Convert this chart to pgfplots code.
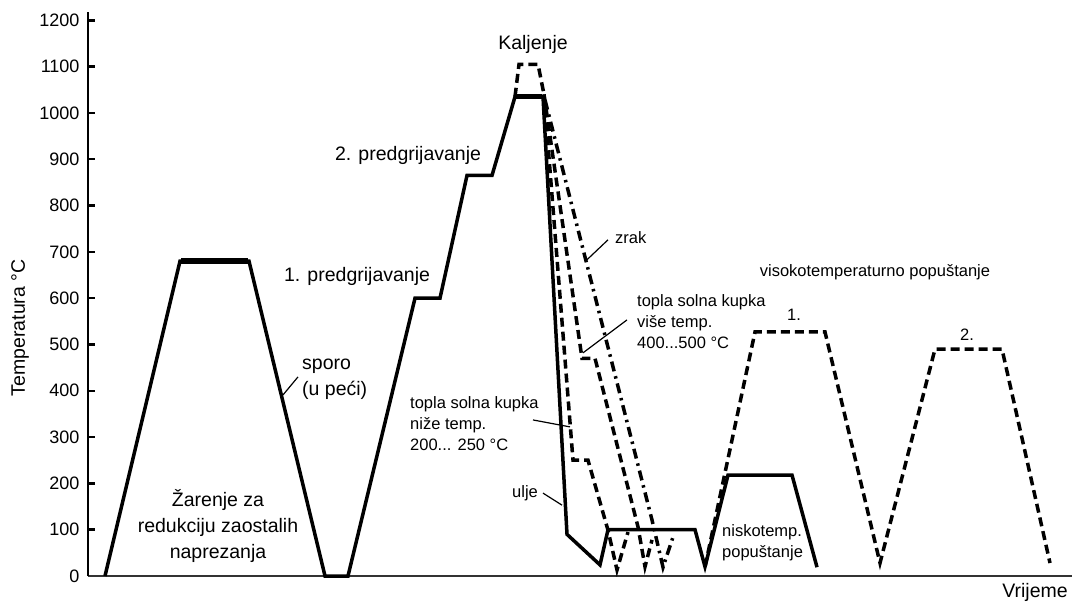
\documentclass[border=0pt]{standalone}
\usepackage{fontspec}
\setmainfont{Liberation Sans}
\usepackage{pgfplots}
\pgfplotsset{compat=1.18}
\newcommand\tl{\fontsize{18}{18}\selectfont}
\begin{document}
\begin{tikzpicture}
\useasboundingbox (-88pt,-29pt) rectangle (987pt,576pt);
\begin{axis}[
  scale only axis, width=984pt, height=564pt,
  xmin=88, xmax=1072, ymin=0, ymax=1218,
  axis x line=bottom, axis y line=left,
  axis line style={-},
  x axis line style={line width=2pt, black!80},
  y axis line style={line width=2.2pt, black},
  xtick=\empty,
  ytick={0,100,...,1200},
  yticklabels={\tl 0,\tl 100,\tl 200,\tl 300,\tl 400,\tl 500,\tl 600,\tl 700,\tl 800,\tl 900,\tl 1000,\tl 1100,\tl 1200},
  tick align=inside,
  major tick length=7pt,
  tick style={line width=2.5pt, black},
  yticklabel style={xshift=-5pt},
  clip=false,
]
% solid main curve: annealing, preheating, hardening, oil quench, low tempering
\addplot[black, line width=3.5pt, line join=miter] coordinates {
 (105,0) (180,680) (249,680) (325,0) (348,0) (415,600) (440,600)
 (467,865) (492,865) (515,1035) (543,1035) (567,90) (600,24) (608,100)
 (695,100) (705,20) (728,218) (792,218) (817,19)};
% thicker plateaus
\addplot[black, line width=5.5pt] coordinates {(181,680) (248,680)};
\addplot[black, line width=5pt] coordinates {(516,1035) (542,1035)};
% higher hardening temperature (dashed)
\addplot[black, line width=3.5pt, dash pattern=on 9pt off 5pt] coordinates {
 (515,1035) (519,1105) (538,1105) (544,1040)};
% lower salt bath
\addplot[black, line width=3.5pt, dash pattern=on 9pt off 5pt] coordinates {
 (544,1040) (573,250) (588,250) (608,99) (617,13) (628,95)};
% higher salt bath
\addplot[black, line width=3.5pt, dash pattern=on 9pt off 5pt] coordinates {
 (544,1040) (582,470) (595,470) (638,106) (645,20) (652,78)};
% air (dash-dot)
\addplot[black, line width=3.5pt, dash pattern=on 10pt off 5pt on 2.5pt off 5pt] coordinates {
 (545,1028) (652,121) (663,19) (673,84)};
% high temperature tempering (dashed)
\addplot[black, line width=3.5pt, dash pattern=on 9pt off 5pt] coordinates {
 (705,20) (755,527) (825,527) (880,28) (935,490) (1002,490) (1050,28)};

% pointer lines
\draw[line width=1.2pt] (axis cs:298,430) -- (axis cs:283,391);
\draw[line width=1.2pt] (axis cs:608,726) -- (axis cs:587,683);
\draw[line width=1.2pt] (axis cs:627,553) -- (axis cs:583,482);
\draw[line width=1.2pt] (axis cs:533,337) -- (axis cs:570,322);
\draw[line width=1.2pt] (axis cs:543,179) -- (axis cs:562,153);

% big labels
\def\big{\fontsize{19.5}{26}\selectfont}
\def\sml{\fontsize{16.5}{21}\selectfont}
\node[font=\big] at (axis cs:533,1147) {Kaljenje};
\node[font=\big] at (axis cs:408,909) {2. predgrijavanje};
\node[font=\big] at (axis cs:357,646) {1. predgrijavanje};
\node[font=\big, anchor=west, align=left, inner sep=0pt] at (axis cs:302,425) {sporo\\(u peći)};
\node[font=\big, align=center, inner sep=0pt] at (axis cs:218,108) {Žarenje za\\redukciju zaostalih\\naprezanja};
\node[font=\big, rotate=90] at (axis cs:20,536) {Temperatura °C};
\node[font=\big] at (axis cs:1035,-35) {Vrijeme};
% small labels
\node[font=\sml, anchor=west, inner sep=0pt] at (axis cs:615,730) {zrak};
\node[font=\sml, anchor=west, align=left, inner sep=0pt] at (axis cs:637,549) {topla solna kupka\\više temp.\\400...500 °C};
\node[font=\sml, anchor=west, align=left, inner sep=0pt] at (axis cs:410,330) {topla solna kupka\\niže temp.\\200... 250 °C};
\node[font=\sml] at (axis cs:525,179) {ulje};
\node[font=\sml, anchor=west, align=left, inner sep=0pt] at (axis cs:722,71) {niskotemp.\\popuštanje};
\node[font=\sml] at (axis cs:875,657) {visokotemperaturno popuštanje};
\node[font=\sml] at (axis cs:794,564) {1.};
\node[font=\sml] at (axis cs:967,520) {2.};
\end{axis}
\end{tikzpicture}
\end{document}
